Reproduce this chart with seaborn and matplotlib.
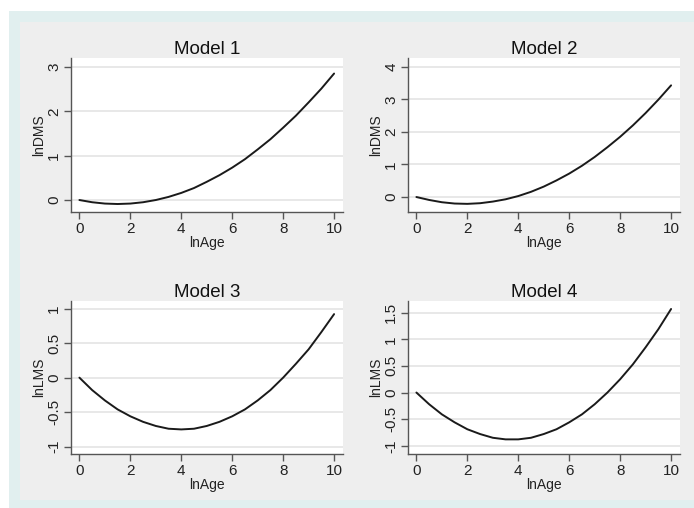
import matplotlib
matplotlib.use("Agg")
import matplotlib.pyplot as plt
from matplotlib.patches import Rectangle
import seaborn as sns
import pandas as pd

# values (x step 0.5)
ln_age = [0, 0.5, 1, 1.5, 2, 2.5, 3, 3.5, 4, 4.5, 5, 5.5, 6, 6.5, 7, 7.5, 8, 8.5, 9, 9.5, 10]
model1 = [0, -0.05, -0.08, -0.09, -0.08, -0.05, 0.00, 0.07, 0.16, 0.27, 0.41,
          0.56, 0.73, 0.92, 1.14, 1.37, 1.63, 1.90, 2.20, 2.51, 2.85]
model2 = [0, -0.09, -0.16, -0.20, -0.21, -0.19, -0.14, -0.07, 0.03, 0.16, 0.32,
          0.51, 0.72, 0.96, 1.23, 1.53, 1.85, 2.20, 2.58, 2.99, 3.43]
model3 = [0, -0.18, -0.33, -0.46, -0.56, -0.64, -0.70, -0.74, -0.75, -0.74, -0.70,
          -0.64, -0.56, -0.46, -0.33, -0.18, 0.00, 0.20, 0.41, 0.66, 0.92]
model4 = [0, -0.22, -0.41, -0.56, -0.69, -0.78, -0.85, -0.88, -0.88, -0.85, -0.78,
          -0.69, -0.56, -0.41, -0.22, 0.00, 0.25, 0.53, 0.85, 1.19, 1.57]

titles = ["Model 1", "Model 2", "Model 3", "Model 4"]
ylabels = ["lnDMS", "lnDMS", "lnLMS", "lnLMS"]
xticks = [0, 2, 4, 6, 8, 10]
yticks = [[0, 1, 2, 3], [0, 1, 2, 3, 4], [-1, -0.5, 0, 0.5, 1], [-1, -0.5, 0, 0.5, 1, 1.5]]
ylims = [(-0.27, 3.2), (-0.46, 4.27), (-1.106, 1.11), (-1.155, 1.72)]

sns.set_style("white")
plt.rcParams["font.family"] = ["Liberation Sans", "DejaVu Sans"]

W, H = 694, 508
fig = plt.figure(figsize=(W / 100, H / 100), dpi=100, facecolor="white")

# Stata-like graph region: bluish outer band, gray inner region
fig.patches.append(Rectangle((9 / W, 0), 1 - 9 / W, 1 - 11 / H, transform=fig.transFigure,
                             facecolor="#e1efef", edgecolor="none", zorder=-2))
fig.patches.append(Rectangle((20 / W, 8 / H), 1 - 20 / W, 1 - 30 / H, transform=fig.transFigure,
                             facecolor="#eeeeee", edgecolor="none", zorder=-1))

boxes = [(71, 58), (408, 58), (71, 301), (408, 301)]  # left, top in pixels
series = [model1, model2, model3, model4]

for i, (left, top) in enumerate(boxes):
    h = 154 if i < 2 else 153
    ax = fig.add_axes([left / W, 1 - (top + h) / H, 272 / W, h / H])
    ax.set_facecolor("white")
    df = pd.DataFrame({"lnAge": ln_age, "y": series[i]})
    sns.lineplot(data=df, x="lnAge", y="y", ax=ax, color="#1a1a1a", linewidth=1.4)
    ax.set_xlim(-0.33, 10.35)
    ax.set_ylim(*ylims[i])
    ax.set_xticks(xticks)
    ax.set_yticks(yticks[i])
    ax.set_yticklabels([f"{v:g}" for v in yticks[i]], rotation=90, va="center")
    for v in yticks[i]:
        ax.axhline(v, color="#e6e6e6", linewidth=1.3, zorder=0)
    ax.tick_params(axis="both", direction="out", length=5, width=1, color="#555555",
                   labelsize=11, labelcolor="#222222", pad=2, left=True, bottom=True)
    for s in ["top", "right"]:
        ax.spines[s].set_visible(False)
    for s in ["left", "bottom"]:
        ax.spines[s].set_color("#555555")
        ax.spines[s].set_linewidth(1)
    ax.set_title(titles[i], fontsize=13.5, color="#111111", pad=3)
    ax.set_xlabel("lnAge", fontsize=10, color="#222222", labelpad=0)
    ax.set_ylabel(ylabels[i], fontsize=10, color="#222222", labelpad=1)

fig.savefig("out.png", dpi=100, facecolor="white")
